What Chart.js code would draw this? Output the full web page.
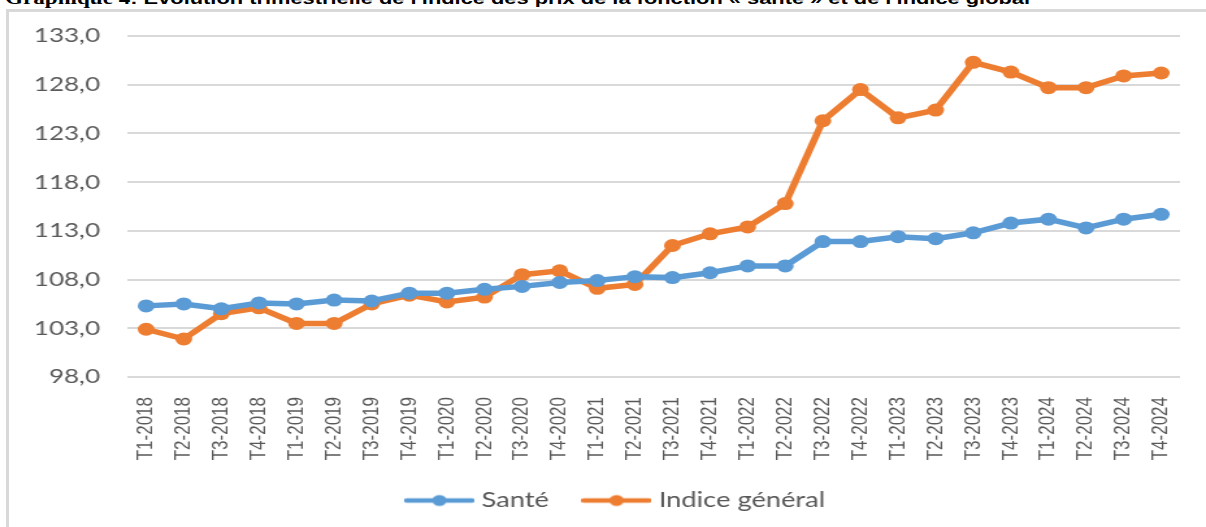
<!DOCTYPE html>
<html lang="fr">
<head>
<meta charset="UTF-8">
<title>Graphique 4 - Indice des prix santé</title>
<script src="https://cdn.jsdelivr.net/npm/chart.js"></script>
<style>
  html, body { margin: 0; padding: 0; background: #fff; overflow: hidden; width: 1206px; height: 527px; }
  #titre { position: absolute; left: 5px; top: -10px; white-space: nowrap; color: #000;
           font: bold 17px "Liberation Sans", Arial, sans-serif; line-height: 17px; transform-origin: 0 0; }
  #titre .g { font-family: "Liberation Serif", "Times New Roman", serif; font-size: 18px; }
  #cadre { position: absolute; left: 6px; top: 9px; width: 1400px; height: 700px;
           border-left: 3px solid #d9d9d9; border-top: 3px solid #d9d9d9; }
  #graphique { position: absolute; left: 0; top: 0; }
</style>
</head>
<body>
  <div id="titre"><span class="g">Graphique 4</span>: Evolution trimestrielle de l'indice des prix de la fonction « santé » et de l'indice global</div>
  <div id="cadre"></div>
  <!-- dessin à 928 px de large, étiré à 1206 px comme l'original -->
  <canvas id="graphique" width="928" height="527" style="width:1206px;height:527px"></canvas>

<script>
  const trimestres = [
    "T1-2018", "T2-2018", "T3-2018", "T4-2018",
    "T1-2019", "T2-2019", "T3-2019", "T4-2019",
    "T1-2020", "T2-2020", "T3-2020", "T4-2020",
    "T1-2021", "T2-2021", "T3-2021", "T4-2021",
    "T1-2022", "T2-2022", "T3-2022", "T4-2022",
    "T1-2023", "T2-2023", "T3-2023", "T4-2023",
    "T1-2024", "T2-2024", "T3-2024", "T4-2024"
  ];
  const sante = [
    105.3, 105.5, 105.0, 105.6, 105.5, 105.9, 105.8, 106.6,
    106.6, 107.0, 107.3, 107.7, 107.9, 108.3, 108.2, 108.7,
    109.4, 109.4, 111.9, 111.9, 112.4, 112.2, 112.8, 113.8,
    114.2, 113.3, 114.2, 114.7
  ];
  const indiceGeneral = [
    102.9, 101.9, 104.5, 105.1, 103.5, 103.5, 105.5, 106.4,
    105.7, 106.2, 108.5, 108.9, 107.1, 107.5, 111.5, 112.7,
    113.4, 115.8, 124.3, 127.5, 124.6, 125.4, 130.3, 129.3,
    127.7, 127.7, 128.9, 129.2
  ];
  const yMin = 98, yMax = 133, yPas = 5;

  const bleu = "#5b9bd5", orange = "#ed7d31", gris = "#595959";

  // étire le titre sur la largeur voulue
  const titre = document.getElementById("titre");
  titre.style.transform = "scaleX(" + (1025 / titre.offsetWidth) + ")";

  // petit trait + rond pour la légende
  function traitLegende(couleur) {
    const c = document.createElement("canvas");
    c.width = 54; c.height = 14;
    const ctx = c.getContext("2d");
    ctx.strokeStyle = couleur;
    ctx.fillStyle = couleur;
    ctx.lineWidth = 4.5;
    ctx.lineCap = "round";
    ctx.beginPath(); ctx.moveTo(2, 7); ctx.lineTo(52, 7); ctx.stroke();
    ctx.beginPath(); ctx.arc(27, 7, 5.5, 0, Math.PI * 2); ctx.fill();
    return c;
  }
  const imagesLegende = [traitLegende(bleu), traitLegende(orange)];

  // la légende est un peu décalée vers la droite dans l'original
  const decalageLegende = {
    id: "decalageLegende",
    afterLayout(chart) { chart.legend.left = 43; }
  };

  new Chart(document.getElementById("graphique"), {
    type: "line",
    data: {
      labels: trimestres,
      datasets: [
        { label: "Santé", data: sante, borderColor: bleu, backgroundColor: bleu,
          borderWidth: 5.5, pointRadius: 6.5, pointBackgroundColor: bleu, pointBorderWidth: 0, tension: 0 },
        { label: "Indice général", data: indiceGeneral, borderColor: orange, backgroundColor: orange,
          borderWidth: 5.5, pointRadius: 6.5, pointBackgroundColor: orange, pointBorderWidth: 0, tension: 0 }
      ]
    },
    plugins: [decalageLegende],
    options: {
      responsive: false,
      animation: false,
      devicePixelRatio: 1,
      layout: { padding: { left: 0, right: 20, top: 36, bottom: 6 } },
      plugins: {
        tooltip: { enabled: false },
        legend: {
          position: "bottom",
          labels: {
            usePointStyle: true,
            pointStyleWidth: 44,
            padding: 30,
            color: gris,
            font: { family: "Lato", size: 21 },
            generateLabels: chart => chart.data.datasets.map((d, i) => ({
              text: d.label,
              pointStyle: imagesLegende[i],
              fillStyle: d.borderColor,
              strokeStyle: d.borderColor,
              lineWidth: 0,
              fontColor: gris,
              hidden: false,
              datasetIndex: i
            }))
          }
        }
      },
      scales: {
        x: {
          offset: true,
          grid: { display: false },
          border: { display: false },
          ticks: {
            autoSkip: false, maxRotation: 90, minRotation: 90, padding: 12,
            color: gris, font: { family: "Liberation Sans", size: 17 }
          },
          afterFit: s => { s.height = 83; }
        },
        y: {
          min: yMin, max: yMax,
          border: { display: false },
          grid: { color: "#d9d9d9", lineWidth: 2, drawTicks: false },
          ticks: {
            stepSize: yPas, padding: 21, color: gris,
            font: { family: "Lato", size: 20 },
            callback: v => v.toFixed(1).replace(".", ",")
          },
          afterFit: s => { s.width = 98; }
        }
      }
    }
  });
</script>
</body>
</html>
